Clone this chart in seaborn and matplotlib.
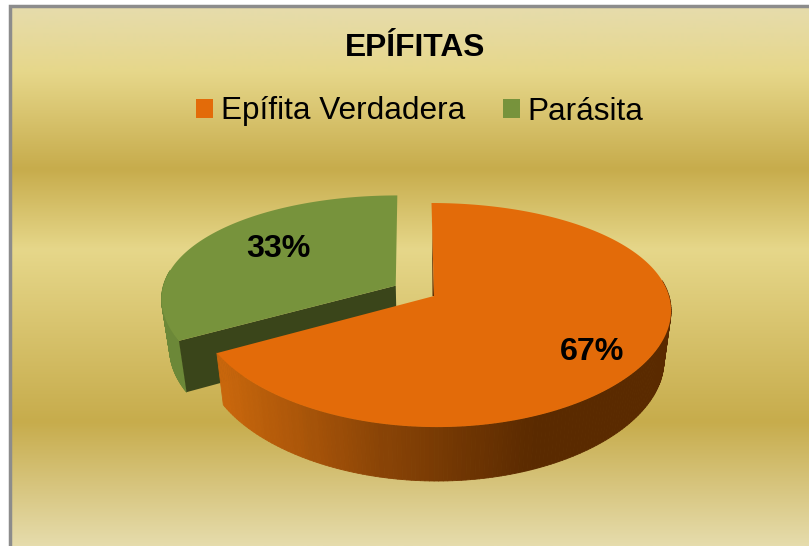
import numpy as np
import seaborn as sns
import matplotlib.pyplot as plt
from matplotlib.collections import PolyCollection
from matplotlib.patches import Polygon
from matplotlib.path import Path
from matplotlib.transforms import Affine2D, Transform

categories = ["Epífita Verdadera", "Parásita"]
values = [67, 33]
explode = [0, 0.19]
title = "EPÍFITAS"

sns.set_theme(style="white")
plt.rcParams['font.family'] = ['Liberation Sans', 'DejaVu Sans']

W, H = 809, 546
orange = "#e36b09"
green = "#77933c"
green_side = "#6c8838"
green_cut = "#3a451a"
orange_cut = "#5a2a00"
border = "#8c8c8c"
side_colors = sns.blend_palette(["#c8660c", "#8a4406", "#5a2a00"], n_colors=64)


# pie lies flat, unit circle -> pixels with a bit of perspective
def flat(x, y):
    x = np.asarray(x, dtype=float)
    y = np.asarray(y, dtype=float)
    px = 434 + (235 * x - 2.8 * y) / (1 + 0.12 * y)
    py = 296 - 108.8 * y / (1 + 0.17 * y)
    return px, py


# same point on the bottom face of the slab
def lower(px, py):
    return 432 + 0.97 * (px - 432), py + 50 + 0.03 * (py - 296)


class FlatPie(Transform):
    input_dims = 2
    output_dims = 2

    def transform_non_affine(self, xy):
        px, py = flat(xy[:, 0], xy[:, 1])
        return np.column_stack([px, py])

    # flatten the arcs first, bent control points give kinks
    def transform_path_non_affine(self, path):
        poly = path.transformed(Affine2D().scale(2000)).to_polygons()[0] / 2000
        return Path(self.transform_non_affine(poly))


fig = plt.figure(figsize=(W / 100, H / 100), dpi=100, facecolor="white")
ax = fig.add_axes([0, 0, 1, 1])

wedges, _, pct = ax.pie(values, explode=explode, colors=[orange, green], startangle=90,
                        counterclock=False, autopct="%.0f%%",
                        wedgeprops={"linewidth": 0})

# gold background
ys = np.linspace(0, 1, 540)
stops = [0, 0.12, 0.30, 0.45, 0.77, 1]
stop_colors = np.array([[230, 220, 172], [230, 215, 138], [199, 172, 76],
                        [230, 215, 138], [199, 172, 76], [230, 220, 172]]) / 255
grad = np.column_stack([np.interp(ys, stops, stop_colors[:, i]) for i in range(3)])
ax.imshow(grad[:, None, :], extent=(12, W, H, 7), aspect="auto", zorder=0)
ax.plot([10.5, 10.5, W], [H, 6, 6], color=border, lw=2.5, zorder=1, solid_joinstyle="miter")

for w, z in zip(wedges, [6, 3]):
    w.set_transform(FlatPie() + ax.transData)
    w.set_zorder(z)
    w.set_clip_on(False)


# only the front of the rim shows
def rim(w):
    t = np.radians(np.linspace(w.theta1, w.theta2, 240))
    t = t[np.sin(t) < 0.15]
    return flat(w.center[0] + np.cos(t), w.center[1] + np.sin(t))


# orange rim, shaded across
px, py = rim(wedges[0])
bx, by = lower(px, py)
quads = [[(px[i], py[i]), (px[i + 1], py[i + 1]), (bx[i + 1], by[i + 1]), (bx[i], by[i])]
         for i in range(len(px) - 1)]
idx = np.clip((px[:-1] - 221) / (530 - 221) * 63, 0, 63).astype(int)
cols = [side_colors[i] for i in idx]
ax.add_collection(PolyCollection(quads, facecolors=cols, edgecolors=cols, linewidths=0.6, zorder=5))

# thin cut face of the orange slice
cx, cy = flat(*wedges[0].center)
tx, ty = flat(wedges[0].center[0], wedges[0].center[1] + 0.8)
ax.add_patch(Polygon([(tx, ty), (cx, cy), (cx - 1.5, cy)], closed=True,
                     facecolor=orange_cut, edgecolor="none", zorder=5))

# green rim + cut face
px, py = rim(wedges[1])
bx, by = lower(px, py)
quads = [[(px[i], py[i]), (px[i + 1], py[i + 1]), (bx[i + 1], by[i + 1]), (bx[i], by[i])]
         for i in range(len(px) - 1)]
ax.add_collection(PolyCollection(quads, facecolors=green_side, edgecolors=green_side,
                                 linewidths=0.6, zorder=2))
cx, cy = flat(*wedges[1].center)
cbx, cby = lower(cx, cy)
ax.add_patch(Polygon([(cx, cy), (px[-1], py[-1]), (bx[-1], by[-1]), (cbx, cby)], closed=True,
                     facecolor=green_cut, edgecolor="none", zorder=2.5))

ax.set_xlim(0, W)
ax.set_ylim(H, 0)
ax.set_aspect("auto")
ax.axis("off")

for t, pos in zip(pct, [(592.5, 352), (278.5, 249)]):
    t.set_position(pos)
    t.set(fontsize=23.2, fontweight="bold", color="black", ha="center", va="center", zorder=8)

ax.set_title(title, x=415.5 / W, y=1 - 56 / H, pad=0, fontsize=22.9, fontweight="bold", color="black")

ax.legend(wedges, categories, loc="center", bbox_to_anchor=(420, 111.5), bbox_transform=ax.transData,
          ncol=2, frameon=False, fontsize=22.7, borderpad=0, borderaxespad=0, labelcolor="black",
          handlelength=0.54, handleheight=0.54, handletextpad=0.24, columnspacing=1.2)

plt.savefig("out.png", dpi=100)
